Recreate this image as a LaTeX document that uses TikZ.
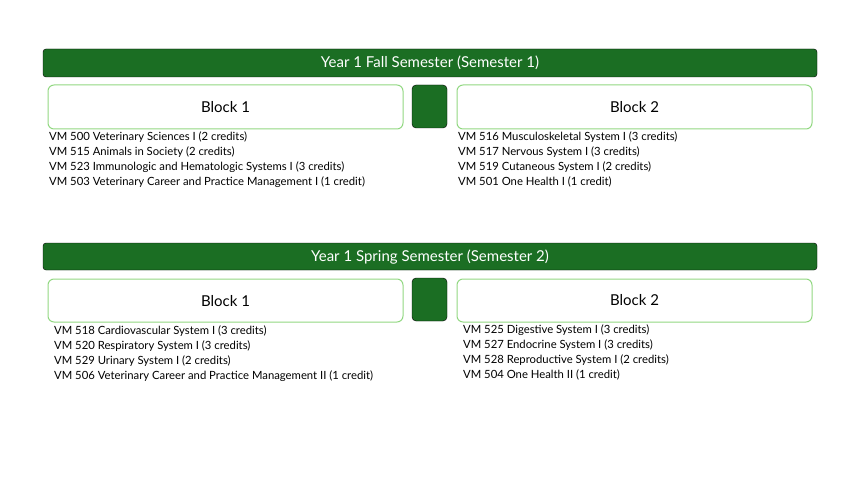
\documentclass[tikz,border=0pt]{standalone}
\usepackage{fontspec}
\setmainfont{Lato}
\definecolor{dg}{HTML}{1B6E23}
\definecolor{lg}{HTML}{92D882}
\begin{document}
\begin{tikzpicture}[x=1pt,y=-1pt,
  bar/.style={fill=dg,rounded corners=3pt,text=white,font=\fontsize{15}{18}\selectfont},
  blk/.style={draw=lg,line width=1pt,fill=white,rounded corners=6pt,font=\fontsize{15}{18}\selectfont},
  sq/.style={fill=dg,rounded corners=4pt},
  lst/.style={anchor=north west,align=left,inner sep=0pt,font=\fontsize{11.3}{15}\selectfont}]
\useasboundingbox (0,0) rectangle (860,484);
% semester 1
\draw[bar] (43,49) rectangle (817,77);
\node[text=white,font=\fontsize{15}{18}\selectfont] (h1) at (430,63) {Year 1 Fall Semester (Semester 1)};
\draw[blk] (48,85) rectangle (403,129);
\node[font=\fontsize{15}{18}\selectfont] (b11) at (225.5,107) {Block 1};
\draw[sq] (412,85) rectangle (447,128);
\draw[blk] (457,85) rectangle (812,129);
\node[font=\fontsize{15}{18}\selectfont] (b12) at (634.5,107) {Block 2};
\node[lst] (l11) at (49,132) {VM 500 Veterinary Sciences I (2 credits)\\VM 515 Animals in Society (2 credits)\\VM 523 Immunologic and Hematologic Systems I (3 credits)\\VM 503 Veterinary Career and Practice Management I (1 credit)};
\node[lst] (l12) at (458,132) {VM 516 Musculoskeletal System I (3 credits)\\VM 517 Nervous System I (3 credits)\\VM 519 Cutaneous System I (2 credits)\\VM 501 One Health I (1 credit)};
% semester 2
\draw[bar] (43,243) rectangle (817,270);
\node[text=white,font=\fontsize{15}{18}\selectfont] (h2) at (430,257) {Year 1 Spring Semester (Semester 2)};
\draw[blk] (48,279) rectangle (403,322);
\node[font=\fontsize{15}{18}\selectfont] (b21) at (225.5,301) {Block 1};
\draw[sq] (412,278) rectangle (447,321);
\draw[blk] (457,279) rectangle (812,322);
\node[font=\fontsize{15}{18}\selectfont] (b22) at (634.5,300) {Block 2};
\node[lst] (l21) at (54,326) {VM 518 Cardiovascular System I (3 credits)\\VM 520 Respiratory System I (3 credits)\\VM 529 Urinary System I (2 credits)\\VM 506 Veterinary Career and Practice Management II (1 credit)};
\node[lst] (l22) at (463,325) {VM 525 Digestive System I (3 credits)\\VM 527 Endocrine System I (3 credits)\\VM 528 Reproductive System I (2 credits)\\VM 504 One Health II (1 credit)};
\end{tikzpicture}
\end{document}
